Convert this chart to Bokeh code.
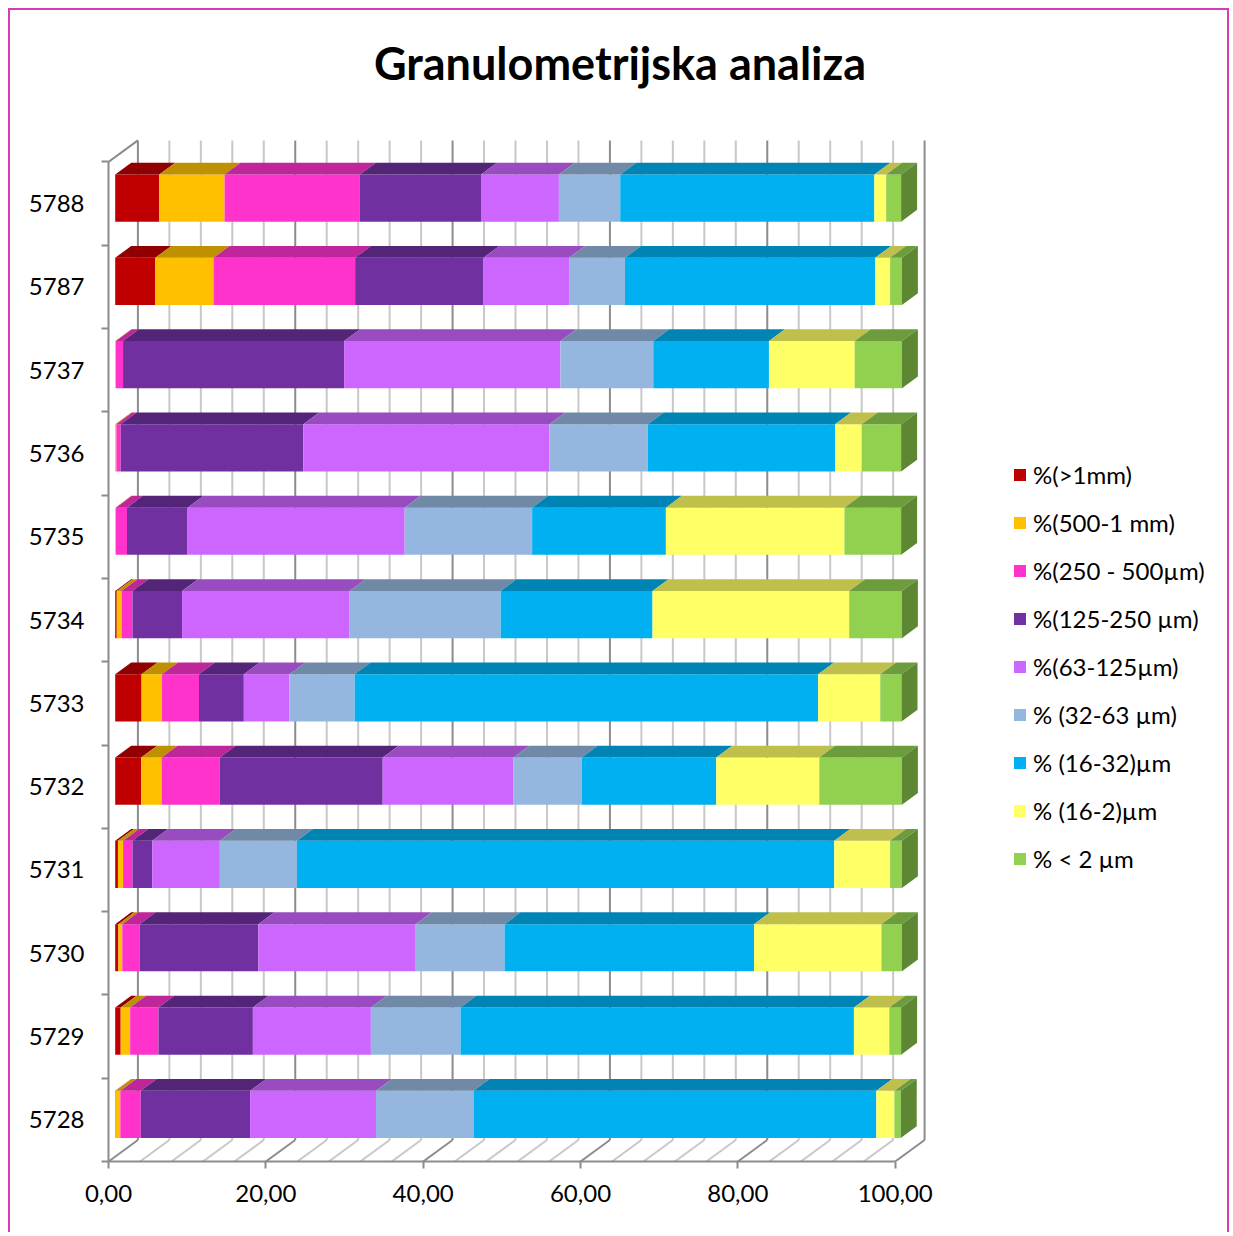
import numpy as np
from bokeh.plotting import figure
from bokeh.models import Range1d, FixedTicker, Legend, LegendItem, Label, ColumnDataSource
from bokeh.embed import file_html
from bokeh.resources import INLINE

# ---------------- data (top-to-bottom as in the chart) ----------------
samples = ["5788", "5787", "5737", "5736", "5735", "5734",
           "5733", "5732", "5731", "5730", "5729", "5728"]

series_names = ["%(>1mm)", "%(500-1 mm)", "%(250 - 500µm)", "%(125-250 µm)",
                "%(63-125µm)", "% (32-63 µm)", "% (16-32)µm", "% (16-2)µm", "% < 2 µm"]

gt_1mm     = [5.6, 5.1, 0.0, 0.0, 0.0, 0.2, 3.35, 3.3, 0.35, 0.4, 0.7, 0.05]
s_500_1mm  = [8.3, 7.4, 0.1, 0.15, 0.1, 0.6, 2.6, 2.6, 0.65, 0.5, 1.2, 0.6]
s_250_500  = [17.2, 18.0, 0.9, 0.55, 1.4, 1.4, 4.7, 7.4, 1.2, 2.2, 3.6, 2.6]
s_125_250  = [15.4, 16.3, 28.1, 23.2, 7.7, 6.3, 5.7, 20.7, 2.5, 15.1, 12.0, 13.9]
s_63_125   = [9.9, 10.9, 27.5, 31.3, 27.6, 21.3, 5.8, 16.6, 8.6, 20.0, 15.0, 16.0]
s_32_63    = [7.8, 7.1, 11.8, 12.5, 16.2, 19.2, 8.3, 8.7, 9.8, 11.3, 11.4, 12.4]
s_16_32    = [32.3, 31.8, 14.7, 23.8, 17.0, 19.3, 58.9, 17.1, 68.3, 31.7, 50.0, 51.2]
s_16_2     = [1.5, 1.9, 10.9, 3.4, 22.7, 25.0, 7.9, 13.1, 7.1, 16.2, 4.5, 2.3]
s_lt_2     = [1.9, 1.5, 6.0, 5.0, 7.2, 6.7, 2.7, 10.5, 1.5, 2.6, 1.5, 0.8]

series_values = [gt_1mm, s_500_1mm, s_250_500, s_125_250, s_63_125,
                 s_32_63, s_16_32, s_16_2, s_lt_2]

colors = ["#C00000", "#FFC000", "#FF33CC", "#7030A0", "#CC66FF",
          "#95B7DF", "#00B0F0", "#FFFF66", "#92D050"]

x_ticks = [0, 20, 40, 60, 80, 100]
x_tick_labels = ["0,00", "20,00", "40,00", "60,00", "80,00", "100,00"]
grid_step = 4

# ---------------- style / layout constants ----------------
FONT = "Lato"
PX_X = 7.867      # px per percent
PX_Y = 83.3       # px per category
W, H = 1221, 1224
ML, MB = 98, 73
frame_w, frame_h = W - ML, H - MB
CANVAS_TOP = 10   # page y of canvas top

WX, WY = 29.4 / PX_X, 21.5 / PX_Y     # depth of the 3D box
BX, BY = 6.7 / PX_X, 5.5 / PX_Y       # front face of bars
DX, DY = 16.0 / PX_X, 11.8 / PX_Y     # bar depth
BH = 47.2 / PX_Y                      # bar thickness


def shade(hexcol, f):
    h = hexcol.lstrip("#")
    r, g, b = (int(h[i:i + 2], 16) for i in (0, 2, 4))
    return "#%02X%02X%02X" % (int(r * f), int(g * f), int(b * f))


n = len(samples)
ycent = np.array([n - 1 - i + 0.5 for i in range(n)])

p = figure(width=W, height=H,
           x_range=Range1d(0, frame_w / PX_X), y_range=Range1d(0, frame_h / PX_Y),
           output_backend="svg", toolbar_location=None,
           min_border_left=ML, min_border_bottom=MB, min_border_top=0, min_border_right=0)
p.xgrid.visible = False
p.ygrid.visible = False
p.outline_line_color = None
p.background_fill_color = "white"
p.border_fill_color = "white"
p.styles = {"margin-left": "8px", "margin-top": "8px",
            "border-top": "2px solid #D63DB0",
            "border-left": "2px solid #D63DB0",
            "border-right": "2px solid #D63DB0"}

# ---------------- 3D walls ----------------
gv = np.arange(0, 101, grid_step)
gcol = ["#8C8C8C" if v % 20 == 0 else "#C8C8C8" for v in gv]
p.segment(x0=gv + WX, y0=np.full(len(gv), WY), x1=gv + WX, y1=np.full(len(gv), n + WY),
          line_color=gcol, line_width=2)
p.segment(x0=gv, y0=np.zeros(len(gv)), x1=gv + WX, y1=np.full(len(gv), WY),
          line_color=gcol, line_width=2)
p.segment(x0=[0], y0=[n], x1=[WX], y1=[n + WY], line_color="#8C8C8C", line_width=2)

# ---------------- stacked 3D bars ----------------
cum = np.zeros(n)
front_renderers = []
for j, (vals, col) in enumerate(zip(series_values, colors)):
    v = np.array(vals, dtype=float)
    left, right = cum.copy(), cum + v
    cum = right
    bot = ycent - BH / 2 + BY
    top = ycent + BH / 2 + BY
    src = ColumnDataSource(dict(left=left + BX, right=right + BX, bottom=bot, top=top))
    r = p.quad(left="left", right="right", bottom="bottom", top="top", source=src,
               fill_color=col, line_color=None)
    front_renderers.append(r)
    xs = [[l + BX, rr + BX, rr + BX + DX, l + BX + DX] for l, rr in zip(left, right)]
    ys = [[t, t, t + DY, t + DY] for t in top]
    p.patches(xs=xs, ys=ys, fill_color=shade(col, 0.75), line_color=None)
    if j == len(series_values) - 1:
        xs = [[rr + BX, rr + BX + DX, rr + BX + DX, rr + BX] for rr in right]
        ys = [[b, b + DY, t + DY, t] for b, t in zip(bot, top)]
        p.patches(xs=xs, ys=ys, fill_color=shade(col, 0.65), line_color=None)

# ---------------- axes ----------------
xa = p.xaxis[0]
xa.ticker = FixedTicker(ticks=x_ticks)
xa.bounds = (0, 100)
xa.major_label_overrides = {t: s for t, s in zip(x_ticks, x_tick_labels)}
xa.axis_line_color = "#8C8C8C"
xa.axis_line_width = 2
xa.major_tick_line_color = "#8C8C8C"
xa.major_tick_line_width = 2
xa.major_tick_out = 7
xa.major_tick_in = 0
xa.minor_tick_line_color = None
xa.major_label_standoff = 16
xa.major_label_text_font = FONT
xa.major_label_text_font_size = "24px"
xa.major_label_text_color = "#000000"

ya = p.yaxis[0]
ya.ticker = FixedTicker(ticks=list(ycent), minor_ticks=list(range(n + 1)))
ya.bounds = (0, n)
ya.major_label_overrides = {float(c): s for c, s in zip(ycent, samples)}
ya.axis_line_color = "#8C8C8C"
ya.axis_line_width = 2
ya.major_tick_line_color = None
ya.major_tick_out = 0
ya.major_tick_in = 0
ya.minor_tick_line_color = "#8C8C8C"
ya.minor_tick_line_width = 2
ya.minor_tick_out = 7
ya.minor_tick_in = 0
ya.major_label_standoff = 17
ya.major_label_text_font = FONT
ya.major_label_text_font_size = "24px"
ya.major_label_text_color = "#000000"

# ---------------- title ----------------
title = Label(x=619.5 - (ML + 10), y=frame_h - (62 - CANVAS_TOP), x_units="screen", y_units="screen",
              text="Granulometrijska analiza", text_font=FONT, text_font_style="bold",
              text_font_size="45px", text_align="center", text_baseline="middle",
              text_color="#000000")
p.add_layout(title)

# ---------------- legend ----------------
items = [LegendItem(label=nm, renderers=[r]) for nm, r in zip(series_names, front_renderers)]
legend = Legend(items=items, location=(1012 - (ML + 10), 288), orientation="vertical",
                border_line_color=None, background_fill_alpha=0,
                label_text_font=FONT, label_text_font_size="24px", label_text_color="#000000",
                glyph_width=15, glyph_height=15, label_standoff=6, spacing=19,
                padding=0, margin=0)
p.add_layout(legend)

open("out.html", "w").write(file_html(p, INLINE))
